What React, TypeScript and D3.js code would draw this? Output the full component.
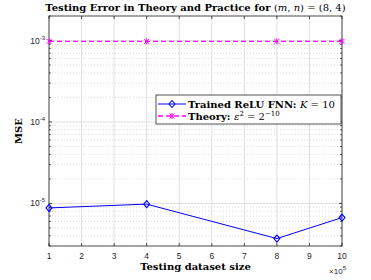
import React, { useRef, useEffect } from "react";
import * as d3 from "d3";

const sizes = [1, 4, 8, 10];
const trainedMse = [8.8e-6, 9.8e-6, 3.7e-6, 6.7e-6];
const theoryMse = [2 ** -10, 2 ** -10, 2 ** -10, 2 ** -10];
const xTicks = [1, 2, 3, 4, 5, 6, 7, 8, 9, 10];
const yDecades = [-5, -4, -3];

const W = 371, H = 280;
const m = { left: 49, right: 29, top: 16, bottom: 34 };

export default function App() {
  const svgRef = useRef<SVGSVGElement>(null);

  useEffect(() => {
    const svg = d3.select(svgRef.current);
    svg.selectAll("*").remove();
    const pw = W - m.left - m.right, ph = H - m.top - m.bottom;
    const x = d3.scaleLinear().domain([1, 10]).range([0, pw]);
    const y = d3.scaleLog().domain([3e-6, 2e-3]).range([ph, 0]);

    const g = svg.append("g").attr("transform", `translate(${m.left},${m.top})`);
    g.append("rect").attr("width", pw).attr("height", ph).attr("fill", "#fff");

    // minor log ticks
    const minors: number[] = [];
    for (let e = -6; e <= -3; e++) for (let k = 2; k <= 9; k++) {
      const v = k * Math.pow(10, e);
      if (v >= 3e-6 && v <= 2e-3) minors.push(v);
    }
    // grids
    g.selectAll(".ymin").data(minors).join("line")
      .attr("x1", 0).attr("x2", pw).attr("y1", d => y(d)).attr("y2", d => y(d))
      .attr("stroke", "#c4c4c4").attr("stroke-width", 0.6).attr("stroke-dasharray", "1,2");
    g.selectAll(".xgrid").data(xTicks).join("line")
      .attr("x1", d => x(d)).attr("x2", d => x(d)).attr("y1", 0).attr("y2", ph)
      .attr("stroke", "#e0e0e0").attr("stroke-width", 1);
    g.selectAll(".ygrid").data(yDecades).join("line")
      .attr("x1", 0).attr("x2", pw).attr("y1", d => y(Math.pow(10, d))).attr("y2", d => y(Math.pow(10, d)))
      .attr("stroke", "#e0e0e0").attr("stroke-width", 1);

    // box + ticks
    const ax = "#262626";
    g.append("rect").attr("width", pw).attr("height", ph).attr("fill", "none")
      .attr("stroke", ax).attr("stroke-width", 0.8);
    g.selectAll(".xt").data(xTicks).join("path")
      .attr("d", d => `M${x(d)},${ph}v-3M${x(d)},0v3`).attr("stroke", ax).attr("stroke-width", 0.8);
    g.selectAll(".yt").data(yDecades).join("path")
      .attr("d", d => `M0,${y(Math.pow(10, d))}h3M${pw},${y(Math.pow(10, d))}h-3`).attr("stroke", ax).attr("stroke-width", 0.8);
    g.selectAll(".ymt").data(minors).join("path")
      .attr("d", d => `M0,${y(d)}h1.8M${pw},${y(d)}h-1.8`).attr("stroke", ax).attr("stroke-width", 0.8);

    // tick labels
    const sans = "Liberation Sans, Arial, sans-serif";
    g.selectAll(".xl").data(xTicks).join("text")
      .attr("x", d => x(d)).attr("y", ph + 13).attr("text-anchor", "middle")
      .attr("font-family", sans).attr("font-size", 8.5).attr("fill", ax)
      .text(d => d);
    const yl = g.selectAll(".yl").data(yDecades).join("text")
      .attr("x", -4).attr("y", d => y(Math.pow(10, d)) + 3).attr("text-anchor", "end")
      .attr("font-family", sans).attr("font-size", 8.5).attr("fill", ax);
    yl.append("tspan").text("10");
    yl.append("tspan").attr("dy", -4).attr("font-size", 6).text(d => d);

    // x10^5
    const ex = g.append("text").attr("x", pw + 4).attr("y", ph + 28).attr("text-anchor", "end")
      .attr("font-family", sans).attr("font-size", 8).attr("fill", ax);
    ex.append("tspan").text("×10");
    ex.append("tspan").attr("dy", -4).attr("font-size", 6).text("5");

    // series
    const line = d3.line<number>().x((d, i) => x(sizes[i])).y(d => y(d));
    g.append("path").datum(theoryMse).attr("d", line).attr("fill", "none")
      .attr("stroke", "#ff00ff").attr("stroke-width", 1.3).attr("stroke-dasharray", "5,3");
    g.selectAll(".tm").data(theoryMse).join("path")
      .attr("transform", (d, i) => `translate(${x(sizes[i])},${y(d)})`)
      .attr("d", "M-2.5,-2.5L2.5,2.5M-2.5,2.5L2.5,-2.5M0,-3V3")
      .attr("stroke", "#ff00ff").attr("stroke-width", 1);

    g.append("path").datum(trainedMse).attr("d", line).attr("fill", "none")
      .attr("stroke", "#0000ff").attr("stroke-width", 1);
    g.selectAll(".dm").data(trainedMse).join("path")
      .attr("transform", (d, i) => `translate(${x(sizes[i])},${y(d)})`)
      .attr("d", "M0,-3.5L3,0L0,3.5L-3,0Z")
      .attr("fill", "none").attr("stroke", "#0000ff").attr("stroke-width", 1.1);

    // legend
    const serif = "DejaVu Serif, serif";
    const lg = svg.append("g").attr("transform", "translate(156,95)");
    lg.append("rect").attr("width", 185).attr("height", 29).attr("fill", "#fff")
      .attr("stroke", ax).attr("stroke-width", 0.8);
    lg.append("line").attr("x1", 2).attr("x2", 30).attr("y1", 9).attr("y2", 9)
      .attr("stroke", "#0000ff").attr("stroke-width", 1);
    lg.append("path").attr("transform", "translate(16,9)").attr("d", "M0,-3.5L3,0L0,3.5L-3,0Z")
      .attr("fill", "none").attr("stroke", "#0000ff").attr("stroke-width", 1.1);
    lg.append("line").attr("x1", 2).attr("x2", 30).attr("y1", 21).attr("y2", 21)
      .attr("stroke", "#ff00ff").attr("stroke-width", 1.3).attr("stroke-dasharray", "5,3");
    lg.append("path").attr("transform", "translate(16,21)").attr("d", "M-2.5,-2.5L2.5,2.5M-2.5,2.5L2.5,-2.5M0,-3V3")
      .attr("stroke", "#ff00ff").attr("stroke-width", 1);
    const t1 = lg.append("text").attr("x", 32).attr("y", 12.5).attr("font-family", serif)
      .attr("font-size", 10).attr("font-weight", "bold").attr("fill", "#000");
    t1.append("tspan").text("Trained ReLU FNN: ");
    t1.append("tspan").attr("font-style", "italic").attr("font-weight", "normal").text("K");
    t1.append("tspan").attr("font-weight", "normal").text(" = 10");
    const t2 = lg.append("text").attr("x", 32).attr("y", 24.5).attr("font-family", serif)
      .attr("font-size", 10).attr("font-weight", "bold").attr("fill", "#000");
    t2.append("tspan").text("Theory: ");
    t2.append("tspan").attr("font-style", "italic").attr("font-weight", "normal").text("ε");
    t2.append("tspan").attr("dy", -4).attr("font-size", 7).attr("font-weight", "normal").text("2");
    t2.append("tspan").attr("dy", 4).attr("font-weight", "normal").text(" = 2");
    t2.append("tspan").attr("dy", -4).attr("font-size", 7).attr("font-weight", "normal").text("−10");

    // title
    const tt = svg.append("text").attr("x", m.left + pw / 2).attr("y", 11).attr("text-anchor", "middle")
      .attr("font-family", serif).attr("font-size", 10).attr("fill", "#000");
    tt.append("tspan").attr("font-weight", "bold").text("Testing Error in Theory and Practice for ");
    tt.append("tspan").text("(");
    tt.append("tspan").attr("font-style", "italic").text("m");
    tt.append("tspan").text(", ");
    tt.append("tspan").attr("font-style", "italic").text("n");
    tt.append("tspan").text(") = (8, 4)");

    // axis labels
    svg.append("text").attr("x", m.left + pw / 2).attr("y", 270).attr("text-anchor", "middle")
      .attr("font-family", serif).attr("font-size", 10).attr("font-weight", "bold").attr("fill", "#000")
      .text("Testing dataset size");
    svg.append("text").attr("transform", `translate(22,${m.top + ph / 2}) rotate(-90)`).attr("text-anchor", "middle")
      .attr("font-family", serif).attr("font-size", 10).attr("font-weight", "bold").attr("fill", "#000")
      .text("MSE");
  }, []);

  return (
    <svg ref={svgRef} width={W} height={H} style={{ position: "absolute", left: 0, top: 0 }} />
  );
}
